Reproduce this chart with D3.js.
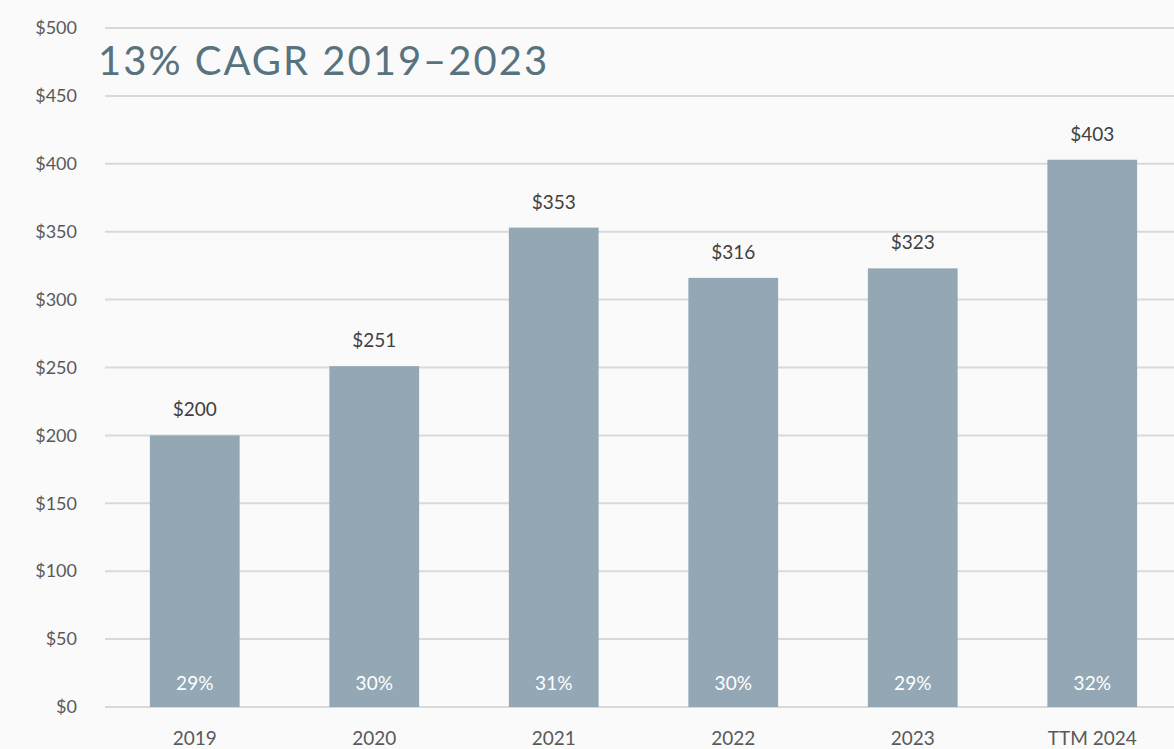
<!DOCTYPE html>
<html><head><meta charset="utf-8">
<script src="https://cdn.jsdelivr.net/npm/d3@7"></script>
<style>
html,body{margin:0;padding:0;background:#fafafa;}
svg{display:block;font-family:Lato,"Open Sans",sans-serif;}
</style></head>
<body><svg id="chart" width="1174" height="749"></svg>
<script>
const categories = ["2019","2020","2021","2022","2023","TTM 2024"];
const values = [200,251,353,316,323,403];
const margins = ["29%","30%","31%","30%","29%","32%"];
const yTicks = [0,50,100,150,200,250,300,350,400,450,500];
const title = "13% CAGR 2019\u20132023";

const svg = d3.select("#chart");
const W = 1174, H = 749;
svg.append("rect").attr("width",W).attr("height",H).attr("fill","#fafafa");

const x = d3.scaleBand().domain(categories).range([105,1182]).paddingInner(0.5).paddingOuter(0.25);
const y = d3.scaleLinear().domain([0,500]).range([707,28]);

// gridlines
svg.append("g").selectAll("line").data(yTicks).join("line")
  .attr("x1",105).attr("x2",W)
  .attr("y1",d=>y(d)).attr("y2",d=>y(d))
  .attr("stroke","#d9d9d9").attr("stroke-width",2);

// y axis
const yAxis = d3.axisLeft(y).tickValues(yTicks).tickSize(0).tickPadding(0).tickFormat(d=>"$"+d);
const gy = svg.append("g").attr("transform","translate(77,0)").call(yAxis);
gy.select(".domain").remove();
gy.selectAll("text").attr("fill","#595959").attr("font-size",18).attr("font-family","Lato,'Open Sans',sans-serif");

// bars
svg.append("g").selectAll("rect").data(values).join("rect")
  .attr("x",(d,i)=>x(categories[i]))
  .attr("width",x.bandwidth())
  .attr("y",d=>y(d))
  .attr("height",d=>y(0)-y(d))
  .attr("fill","#93a8b4");

// value labels
svg.append("g").selectAll("text").data(values).join("text")
  .attr("x",(d,i)=>x(categories[i])+x.bandwidth()/2)
  .attr("y",d=>y(d)-19)
  .attr("text-anchor","middle")
  .attr("fill","#404040").attr("font-size",19)
  .text(d=>"$"+d);

// margin labels
svg.append("g").selectAll("text").data(margins).join("text")
  .attr("x",(d,i)=>x(categories[i])+x.bandwidth()/2)
  .attr("y",y(0)-17)
  .attr("text-anchor","middle")
  .attr("fill","#ffffff").attr("font-size",19)
  .text(d=>d);

// x axis
const xAxis = d3.axisBottom(x).tickSize(0).tickPadding(0);
const gx = svg.append("g").attr("transform","translate(0,707)").call(xAxis);
gx.select(".domain").remove();
gx.selectAll("text").attr("fill","#595959").attr("font-size",19).attr("dy",null).attr("y",38)
  .attr("font-family","Lato,'Open Sans',sans-serif");

// title
svg.append("text").attr("x",98).attr("y",75)
  .attr("fill","#587380").attr("font-size",40).attr("letter-spacing",2)
  .text(title);
</script></body></html>
